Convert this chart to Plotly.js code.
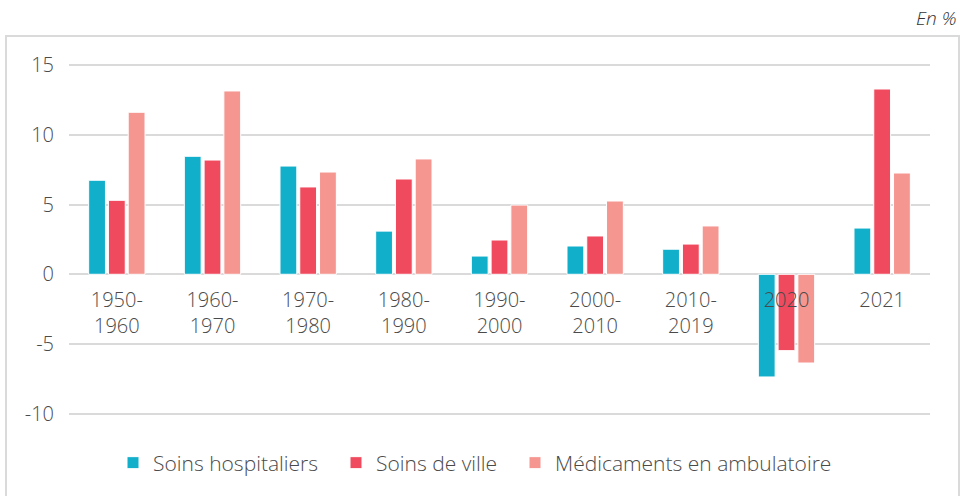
<!DOCTYPE html>
<html>
<head>
<meta charset="utf-8">
<script src="https://cdn.plot.ly/plotly-3.0.1.min.js"></script>
<style>html,body{margin:0;padding:0;background:#fff;}#chart{width:968px;height:496px;}</style>
</head>
<body>
<div id="chart"></div>
<script>
const categories = ["1950-<br>1960", "1960-<br>1970", "1970-<br>1980", "1980-<br>1990", "1990-<br>2000", "2000-<br>2010", "2010-<br>2019", "2020", "2021"];
const soinsHospitaliers = [6.75, 8.47, 7.77, 3.1, 1.31, 2.03, 1.8, -7.37, 3.32];
const soinsDeVille = [5.31, 8.2, 6.27, 6.84, 2.46, 2.75, 2.17, -5.48, 13.3];
const medicaments = [11.63, 13.16, 7.34, 8.28, 4.97, 5.26, 3.47, -6.37, 7.27];
const seriesNames = ["Soins hospitaliers", "Soins de ville", "Médicaments en ambulatoire"];
const yTickVals = [-10, -5, 0, 5, 10, 15];
const yTickText = ["-10", "-5", "0", "5", "10", "15"];

const colors = ["#12AFCB", "#F04A5E", "#F59691"];
const fontFamily = "'Open Sans', 'Noto Sans', sans-serif";
const textColor = "#4a4a4a";
const gridColor = "#DADADA";

const W = 968, H = 496;
const M = {l: 69, r: 38, t: 50, b: 70};
const plotW = W - M.l - M.r, plotH = H - M.t - M.b;

const yRange = [-10.89, 16.10];
const zeroPos = (0 - yRange[0]) / (yRange[1] - yRange[0]);

const legendIds = ["legend", "legend2", "legend3"];
const legendLeftPx = [113, 336, 515];

const seriesValues = [soinsHospitaliers, soinsDeVille, medicaments];
const traces = seriesValues.map((vals, i) => ({
  type: "bar",
  name: seriesNames[i],
  x: categories,
  y: vals,
  legend: legendIds[i],
  marker: {color: colors[i], line: {color: "#ffffff", width: 1}},
  hoverinfo: "x+y+name"
}));

const legendFont = {size: 21, color: textColor, family: fontFamily, weight: 300};
function makeLegend(i) {
  return {
    orientation: "h",
    x: (legendLeftPx[i] - M.l) / plotW, xanchor: "left", xref: "paper",
    y: 1 - 463 / H, yanchor: "middle", yref: "container",
    font: legendFont,
    itemclick: false,
    bgcolor: "rgba(0,0,0,0)"
  };
}

const layout = {
  width: W,
  height: H,
  margin: {l: M.l, r: M.r, t: M.t, b: M.b, autoexpand: false},
  paper_bgcolor: "#ffffff",
  plot_bgcolor: "#ffffff",
  font: {family: fontFamily, color: textColor, size: 20, weight: 300},
  barmode: "group",
  bargap: 0.38,
  bargroupgap: 0.15,
  showlegend: true,
  legend: makeLegend(0),
  legend2: makeLegend(1),
  legend3: makeLegend(2),
  xaxis: {
    type: "category",
    anchor: "free",
    position: zeroPos,
    automargin: false,
    showgrid: false,
    showline: false,
    zeroline: false,
    ticks: "",
    tickfont: {size: 20, color: textColor, family: fontFamily, weight: 300},
    ticklabelstandoff: 12,
    fixedrange: true
  },
  yaxis: {
    range: yRange,
    automargin: false,
    tickvals: yTickVals,
    ticktext: yTickText,
    showgrid: true,
    gridcolor: gridColor,
    gridwidth: 1.6,
    zeroline: true,
    zerolinecolor: gridColor,
    zerolinewidth: 1.6,
    showline: false,
    ticks: "",
    ticklabelstandoff: 14,
    tickfont: {size: 20, color: textColor, family: fontFamily, weight: 300},
    fixedrange: true
  },
  shapes: [{
    type: "rect",
    xref: "paper", yref: "paper",
    x0: (6 - M.l) / plotW, x1: (959 - M.l) / plotW,
    y0: -0.5, y1: (H - M.b - 36) / plotH,
    line: {color: "#DADADA", width: 2},
    fillcolor: "rgba(0,0,0,0)",
    layer: "below"
  }],
  annotations: [{
    text: "<i>En %</i>",
    xref: "paper", yref: "paper",
    x: (958 - M.l) / plotW, xanchor: "right",
    y: (H - M.b - 18) / plotH, yanchor: "middle",
    showarrow: false,
    font: {size: 19, color: "#333333", family: fontFamily, weight: 300}
  }]
};

Plotly.newPlot("chart", traces, layout, {displayModeBar: false});
</script>
</body>
</html>
